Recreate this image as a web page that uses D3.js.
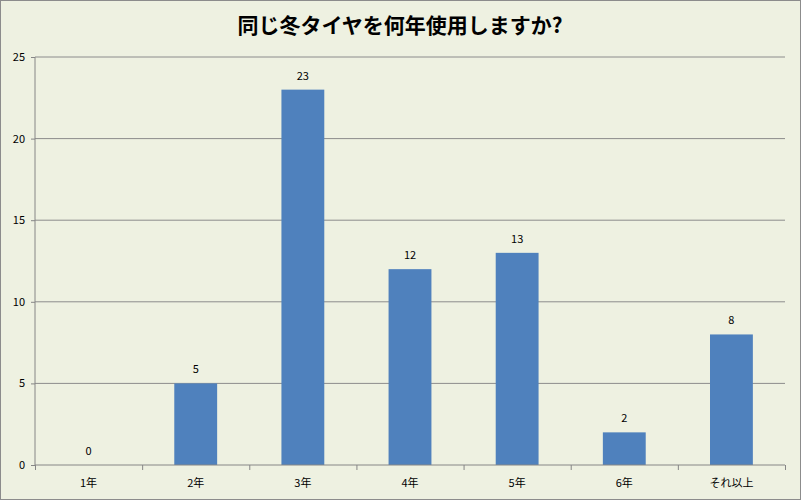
<!DOCTYPE html><html><head><meta charset="utf-8"><script src="https://cdn.jsdelivr.net/npm/d3@7"></script>
<style>body{margin:0}svg{display:block}</style></head><body><svg id="c" width="801" height="500"></svg><script>
const categories=["1年","2年","3年","4年","5年","6年","それ以上"];
const values=[0,5,23,12,13,2,8];
const yTicks=[0,5,10,15,20,25];
const svg=d3.select("#c");
svg.append("rect").attr("x",0.5).attr("y",0.5).attr("width",800).attr("height",499).attr("fill","#EEF1E1").attr("stroke","#8c8c8c");
const L=35,R=785,T=57,B=465;
const x=d3.scaleBand().domain(categories).range([L,R]).paddingInner(0.6).paddingOuter(0.3);
const y=d3.scaleLinear().domain([0,25]).range([B,T]);
const f="'Noto Sans CJK JP','DejaVu Sans',sans-serif";
svg.append("g").selectAll("line").data(yTicks.slice(1)).join("line").attr("x1",L).attr("x2",R).attr("y1",d=>y(d)).attr("y2",d=>y(d)).attr("stroke","#8c8c8c");
svg.append("g").selectAll("rect").data(values).join("rect").attr("x",(d,i)=>x(categories[i])).attr("width",x.bandwidth()).attr("y",d=>y(d)).attr("height",d=>B-y(d)).attr("fill","#4F81BD");
svg.append("g").selectAll("text").data(values).join("text").attr("x",(d,i)=>x(categories[i])+x.bandwidth()/2).attr("y",d=>y(d)-10).attr("text-anchor","middle").attr("font-size",11).attr("font-family",f).text(d=>d);
const ya=svg.append("g").attr("transform",`translate(${L},0)`).call(d3.axisLeft(y).tickValues(yTicks).tickSize(4).tickPadding(6));
const xs=d3.scaleLinear().domain([0,7]).range([L,R]);
const xa=svg.append("g").attr("transform",`translate(0,${B})`).call(d3.axisBottom(xs).ticks(7).tickSize(5).tickFormat(""));
[ya,xa].forEach(a=>{a.selectAll("path,line").attr("stroke","#868686");a.selectAll("text").attr("font-size",11).attr("font-family",f).attr("fill","#000");});
xa.select(".domain").attr("d",`M${L},0H${R}`);
ya.select(".domain").attr("d",`M0,${T}V${B}`);
svg.append("g").selectAll("text").data(categories).join("text").attr("x",d=>x(d)+x.bandwidth()/2).attr("y",B+22).attr("text-anchor","middle").attr("font-size",11).attr("font-family",f).text(d=>d);
svg.append("text").attr("x",400).attr("y",33).attr("text-anchor","middle").attr("font-size",21).attr("font-weight","bold").attr("font-family",f).text("同じ冬タイヤを何年使用しますか?");
</script></body></html>
